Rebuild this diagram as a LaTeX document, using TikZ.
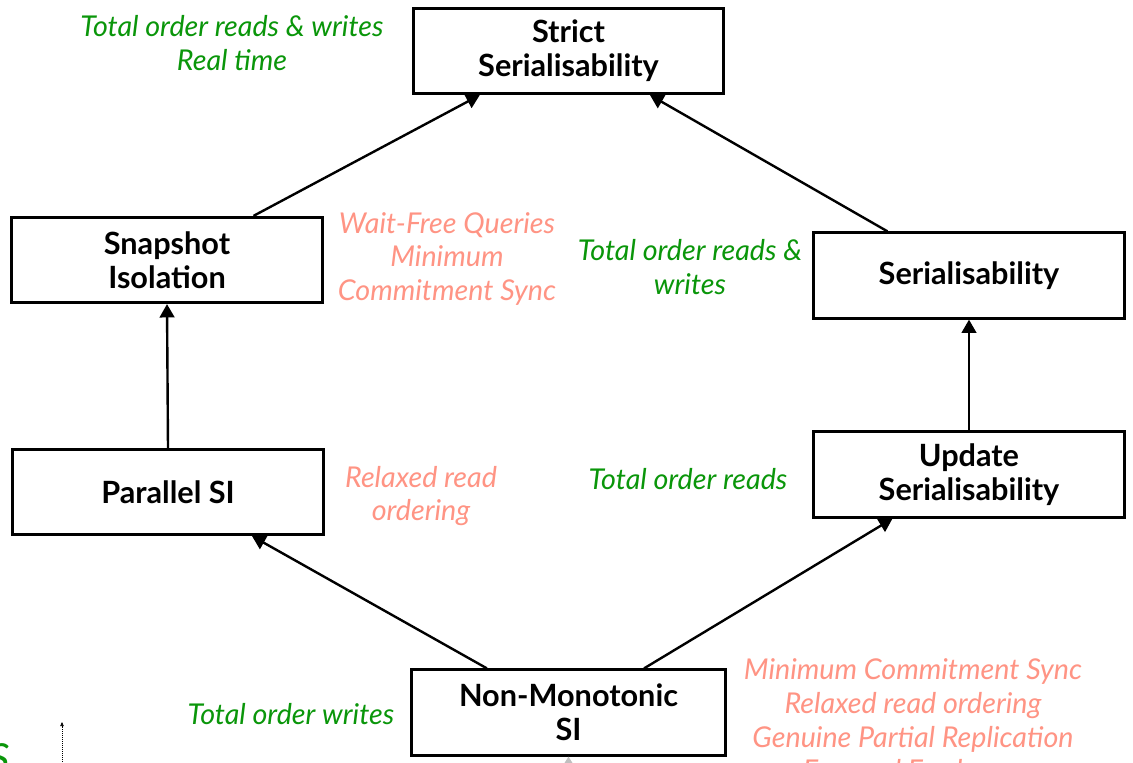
\documentclass[tikz,border=0pt]{standalone}
\usepackage{fontspec}
\setmainfont{Lato}
\usetikzlibrary{arrows.meta,calc}
\definecolor{goodgreen}{RGB}{10,150,10}
\definecolor{salmon}{RGB}{255,148,132}
\tikzset{
  level/.style={draw=black, line width=2.2pt, fill=white, inner sep=2pt,
    minimum width=233pt, minimum height=64pt, align=center,
    font=\fontsize{23}{25.5}\selectfont\bfseries},
  gain/.style={text=goodgreen, align=center, inner sep=0pt,
    font=\fontsize{21.5}{25.2}\selectfont\itshape},
  cost/.style={text=salmon, align=center, inner sep=0pt,
    font=\fontsize{21.5}{25.2}\selectfont\itshape},
  implies/.style={line width=1.8pt, -{Triangle[length=10pt,width=11pt]}},
}
\begin{document}
\begin{tikzpicture}[x=0.75pt, y=-0.75pt]
  \clip (0,0) rectangle (1133,763);
  \fill[white] (0,0) rectangle (1133,763);

  % consistency levels
  \node[level] (strict) at (568.5,51)  {Strict\\Serialisability};
  \node[level] (snap)   at (167,260)   {Snapshot\\Isolation};
  \node[level] (ser)    at (969,275.5) {Serialisability};
  \node[level] (par)    at (168,492)   {Parallel SI};
  \node[level] (upd)    at (969,474.5) {Update\\Serialisability};
  \node[level, minimum width=236pt] (nm) at (568.5,712.5) {Non-Monotonic\\SI};

  % what each step adds or relaxes
  \node[gain] (g1) at (232,43)  {Total order reads \& writes\\Real time};
  \node[cost] (c1) at (447,259) {Wait-Free Queries\\Minimum\\Commitment Sync};
  \node[gain] (g2) at (690,267) {Total order reads \&\\writes};
  \node[cost] (c2) at (421,496) {Relaxed read\\ordering};
  \node[gain] (g3) at (688,479) {Total order reads};
  \node[gain] (g4) at (291,714) {Total order writes};
  \node[cost] (c3) at (913,720) {Minimum Commitment Sync\\Relaxed read ordering\\Genuine Partial Replication\\Forward Freshness};
  \node[gain, anchor=north east, font=\fontsize{30}{30}\selectfont\itshape] (gs) at (10,743) {S};

  % implications between levels
  \draw[implies] ($(snap.north west)!0.776!(snap.north east)$) -- ($(strict.south west)!0.217!(strict.south east)$);
  \draw[implies] ($(ser.north west)!0.24!(ser.north east)$) -- ($(strict.south west)!0.76!(strict.south east)$);
  \draw[implies] (par.north) -- (snap.south);
  \draw[implies] (upd.north) -- (ser.south);
  \draw[implies] ($(nm.north west)!0.243!(nm.north east)$) -- ($(par.south west)!0.768!(par.south east)$);
  \draw[implies] ($(nm.north west)!0.738!(nm.north east)$) -- ($(upd.south west)!0.256!(upd.south east)$);

  % arrows entering from below
  \coordinate (lowmid) at (568.5,800);
  \draw[gray!50, line width=1pt, -{Triangle[length=5pt,width=6pt]}] (lowmid) -- (nm.south);
  \coordinate (dotfrom) at (62,800);
  \coordinate (dotto) at (62,722);
  \draw[densely dotted, line width=0.5pt, -{Triangle[length=3pt,width=2.5pt]}] (dotfrom) -- (dotto);
\end{tikzpicture}
\end{document}
